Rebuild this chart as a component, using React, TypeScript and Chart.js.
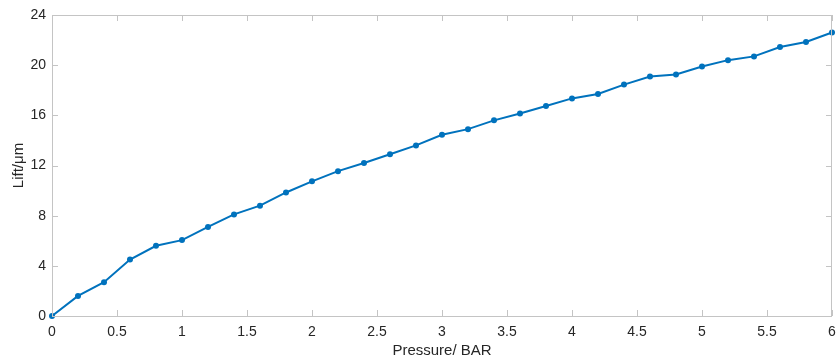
import React, { useEffect, useRef } from "react";
import { Chart, registerables } from "chart.js";

Chart.register(...registerables);

const pressure: number[] = [0, 0.2, 0.4, 0.6, 0.8, 1.0, 1.2, 1.4, 1.6, 1.8, 2.0, 2.2, 2.4, 2.6, 2.8, 3.0, 3.2, 3.4, 3.6, 3.8, 4.0, 4.2, 4.4, 4.6, 4.8, 5.0, 5.2, 5.4, 5.6, 5.8, 6.0];
const lift: number[] = [0, 1.6, 2.7, 4.5, 5.6, 6.05, 7.1, 8.1, 8.8, 9.85, 10.74, 11.55, 12.2, 12.9, 13.6, 14.45, 14.9, 15.6, 16.15, 16.75, 17.35, 17.7, 18.45, 19.1, 19.25, 19.9, 20.4, 20.7, 21.45, 21.85, 22.6];
const xTicks: number[] = [0, 0.5, 1, 1.5, 2, 2.5, 3, 3.5, 4, 4.5, 5, 5.5, 6];
const yTicks: number[] = [0, 4, 8, 12, 16, 20, 24];
const xTitle = "Pressure/ BAR";
const yTitle = "Lift/\u03bcm";

const FONT = "'Liberation Sans', Arial, Helvetica, sans-serif";
const TEXT = "#262626";
const BOX = "#c4c4c4";

const boxPlugin = {
  id: "matlabBox",
  afterDatasetsDraw(chart: any) {
    const { ctx, chartArea: a, scales } = chart;
    const L = 6;
    ctx.save();
    ctx.strokeStyle = BOX;
    ctx.lineWidth = 1;
    ctx.beginPath();
    ctx.rect(Math.round(a.left) + 0.5, Math.round(a.top) + 0.5, Math.round(a.right - a.left) - 1, Math.round(a.bottom - a.top));
    for (const v of xTicks) {
      const px = Math.round(scales.x.getPixelForValue(v)) + 0.5;
      ctx.moveTo(px, a.bottom);
      ctx.lineTo(px, a.bottom - L);
      ctx.moveTo(px, a.top);
      ctx.lineTo(px, a.top + L);
    }
    for (const v of yTicks) {
      const py = Math.round(scales.y.getPixelForValue(v)) + 0.5;
      ctx.moveTo(a.left, py);
      ctx.lineTo(a.left + L, py);
      ctx.moveTo(a.right, py);
      ctx.lineTo(a.right - L, py);
    }
    ctx.stroke();
    ctx.restore();
  },
};

export default function App() {
  const ref = useRef<HTMLCanvasElement | null>(null);
  useEffect(() => {
    if (!ref.current) return;
    const chart = new Chart(ref.current, {
      type: "line",
      data: {
        datasets: [
          {
            data: pressure.map((p, i) => ({ x: p, y: lift[i] })),
            borderColor: "#0072BD",
            backgroundColor: "#0072BD",
            borderWidth: 2,
            pointRadius: 3,
            pointBorderWidth: 0,
            pointBackgroundColor: "#0072BD",
            tension: 0,
            clip: 6,
          },
        ],
      },
      options: {
        animation: false,
        responsive: false,
        maintainAspectRatio: false,
        layout: { padding: { top: 15, right: 2, left: 0, bottom: 0 } },
        plugins: { legend: { display: false }, tooltip: { enabled: false } },
        scales: {
          x: {
            type: "linear",
            min: 0,
            max: 6,
            afterBuildTicks: (s: any) => {
              s.ticks = xTicks.map((v) => ({ value: v }));
            },
            afterFit: (s: any) => {
              s.height = 44;
              s.paddingLeft = 0;
              s.paddingRight = 0;
            },
            grid: { display: false, drawTicks: false },
            border: { display: false },
            ticks: {
              color: TEXT,
              font: { family: FONT, size: 14 },
              padding: 8,
              maxRotation: 0,
              callback: (v: any) => String(v),
            },
            title: {
              display: true,
              text: xTitle,
              color: TEXT,
              font: { family: FONT, size: 15 },
              padding: { top: 0, bottom: 0 },
            },
          },
          y: {
            type: "linear",
            min: 0,
            max: 24,
            afterBuildTicks: (s: any) => {
              s.ticks = yTicks.map((v) => ({ value: v }));
            },
            afterFit: (s: any) => {
              s.width = 52;
              s.paddingTop = 0;
              s.paddingBottom = 0;
            },
            grid: { display: false, drawTicks: false },
            border: { display: false },
            ticks: {
              color: TEXT,
              font: { family: FONT, size: 14 },
              padding: 6,
              callback: (v: any) => String(v),
            },
            title: {
              display: true,
              text: yTitle,
              color: TEXT,
              font: { family: FONT, size: 15 },
              padding: { top: 10, bottom: 0 },
            },
          },
        },
      },
      plugins: [boxPlugin],
    });
    return () => chart.destroy();
  }, []);
  return (
    <div style={{ position: "fixed", left: 0, top: 0, width: 836, height: 360, background: "#fff" }}>
      <canvas ref={ref} width={836} height={360} style={{ display: "block" }} />
    </div>
  );
}
